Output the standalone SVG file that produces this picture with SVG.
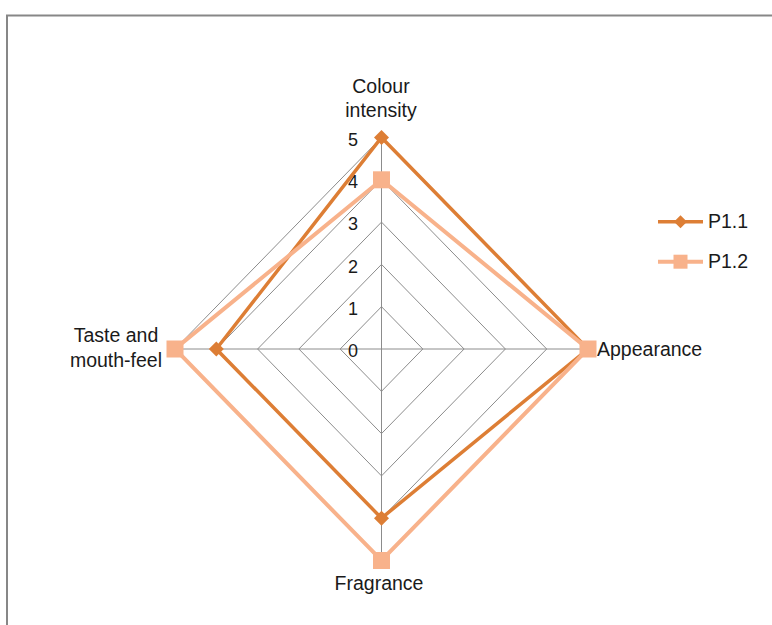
<svg xmlns="http://www.w3.org/2000/svg" width="772" height="625" viewBox="0 0 772 625">
<style>
.grid{fill:none;stroke:#8c8c8c;stroke-width:1}
.lbl{font-family:"Liberation Sans",Arial,sans-serif;font-size:19.5px;fill:#1a1a1a}
.tick{font-family:"Liberation Sans",Arial,sans-serif;font-size:18px;fill:#1a1a1a;text-anchor:end}
.s1{fill:none;stroke:#DD7E35;stroke-width:3.5;stroke-linejoin:miter}
.s2{fill:none;stroke:#F8B28B;stroke-width:4;stroke-linejoin:miter}
.m1{fill:#DD7E35}
.m2{fill:#F8B28B}
</style>
<defs>
<path id="dia" d="M0,-7.5 L7.5,0 L0,7.5 L-7.5,0 Z"/>
<rect id="sq" x="-8.5" y="-8.5" width="17" height="17"/>
<rect id="sqs" x="-7" y="-7" width="14" height="14"/>
<path id="dias" d="M0,-6.5 L6.5,0 L0,6.5 L-6.5,0 Z"/>
</defs>
<rect width="772" height="625" fill="#ffffff"/>
<path d="M7,626 V15.5 H773" fill="none" stroke="#878787" stroke-width="2"/>
<g id="grid">
<polygon class="grid" points="381.5,306.7 422.8,349 381.5,391.3 340.2,349"/>
<polygon class="grid" points="381.5,264.4 464.1,349 381.5,433.6 298.9,349"/>
<polygon class="grid" points="381.5,222.1 505.4,349 381.5,475.9 257.6,349"/>
<polygon class="grid" points="381.5,179.8 546.7,349 381.5,518.2 216.3,349"/>
<polygon class="grid" points="381.5,137.5 588,349 381.5,560.5 175,349"/>
<path class="grid" d="M381.5,137.5 V560.5 M175,349 H588"/>
</g>
<g id="ticks">
<text class="tick" x="358" y="145.5">5</text>
<text class="tick" x="358" y="188">4</text>
<text class="tick" x="358" y="230">3</text>
<text class="tick" x="358" y="272.5">2</text>
<text class="tick" x="358" y="314.5">1</text>
<text class="tick" x="358" y="357">0</text>
</g>
<g id="axis-labels">
<g id="colour-intensity"><text class="lbl" x="381" y="93" text-anchor="middle">Colour</text><text class="lbl" x="381" y="117" text-anchor="middle">intensity</text></g>
<g id="appearance"><text class="lbl" x="597" y="356">Appearance</text></g>
<g id="fragrance"><text class="lbl" x="379" y="590" text-anchor="middle">Fragrance</text></g>
<g id="taste"><text class="lbl" x="116" y="342" text-anchor="middle">Taste and</text><text class="lbl" x="116" y="367" text-anchor="middle">mouth-feel</text></g>
</g>
<g id="series-P1.1">
<polygon class="s1" points="381.5,137.5 588,349 381.5,518.2 216.3,349"/>
<use href="#dia" class="m1" x="381.5" y="137.5"/>
<use href="#dia" class="m1" x="588" y="349"/>
<use href="#dia" class="m1" x="381.5" y="518.2"/>
<use href="#dia" class="m1" x="216.3" y="349"/>
</g>
<g id="series-P1.2">
<polygon class="s2" points="381.5,179.8 588,349 381.5,560.5 175,349"/>
<use href="#sq" class="m2" x="381.5" y="179.8"/>
<use href="#sq" class="m2" x="588" y="349"/>
<use href="#sq" class="m2" x="381.5" y="560.5"/>
<use href="#sq" class="m2" x="175" y="349"/>
</g>
<g id="legend">
<g id="legend-P1.1">
<line x1="658" y1="221.7" x2="703" y2="221.7" stroke="#DD7E35" stroke-width="3.5"/>
<use href="#dias" class="m1" x="680.5" y="221.7"/>
<text class="lbl" x="708" y="228">P1.1</text>
</g>
<g id="legend-P1.2">
<line x1="658" y1="261.7" x2="703" y2="261.7" stroke="#F8B28B" stroke-width="4"/>
<use href="#sqs" class="m2" x="680.5" y="261.7"/>
<text class="lbl" x="708" y="268">P1.2</text>
</g>
</g>
</svg>
